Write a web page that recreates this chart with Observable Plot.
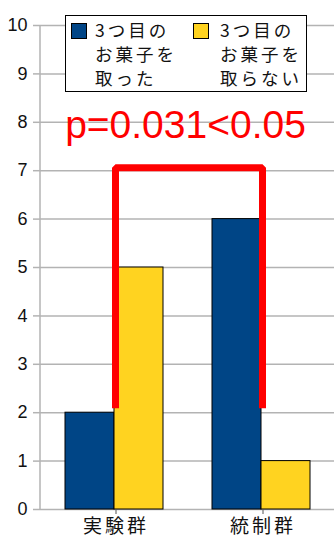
<!DOCTYPE html>
<html>
<head>
<meta charset="utf-8">
<script src="https://cdn.jsdelivr.net/npm/d3@7"></script>
<script src="https://cdn.jsdelivr.net/npm/@observablehq/plot@0.6"></script>
<style>
  html, body { margin: 0; padding: 0; background: #fff; }
  #wrap { position: relative; width: 334px; height: 540px; overflow: hidden; }
  #legend { position: absolute; left: 65px; top: 15px; width: 242px; height: 77px; box-sizing: border-box;
            border: 1.5px solid #000; background: #fff; font-family: "Noto Sans CJK JP", sans-serif; }
  .sw { position: absolute; width: 16px; height: 16px; box-sizing: border-box; border: 1px solid #000; top: 7px; }
  .lt { position: absolute; top: 2px; font-size: 17.5px; line-height: 24px; letter-spacing: 3px; color: #111; white-space: pre; }
</style>
</head>
<body>
<div id="wrap">
  <div id="chart"></div>
  <div id="legend"></div>
</div>
<script>
// ---- data ----
const groups = ["実験群", "統制群"];
const seriesNames = ["3つ目の\nお菓子を\n取った", "3つ目の\nお菓子を\n取らない"];
const seriesColors = ["#004586", "#ffd320"];
const tookValues = [2, 6];      // 3つ目のお菓子を取った
const notTookValues = [5, 1];   // 3つ目のお菓子を取らない
const yTicks = [0, 1, 2, 3, 4, 5, 6, 7, 8, 9, 10];
const pLabel = "p=0.031<0.05";
const bracketTop = 7.06;
const bracketBottom = 2.09;
const pLabelY = 7.93;

const took = groups.map((g, i) => ({group: g, value: tookValues[i]}));
const notTook = groups.map((g, i) => ({group: g, value: notTookValues[i]}));
const bracket = [
  {group: groups[0], y: bracketBottom},
  {group: groups[0], y: bracketTop},
  {group: groups[1], y: bracketTop},
  {group: groups[1], y: bracketBottom}
];

const gridColor = "#b3b3b3";

const chart = Plot.plot({
  width: 334,
  height: 540,
  marginLeft: 40,
  marginRight: 0,
  marginTop: 25,
  marginBottom: 31,
  style: {background: "#fff", overflow: "visible"},
  x: {domain: groups, paddingInner: 1/3, paddingOuter: 1/6, label: null},
  y: {domain: [0, 10], label: null},
  marks: [
    Plot.gridY(yTicks, {stroke: gridColor, strokeOpacity: 1, strokeWidth: 1.5}),
    Plot.axisY(yTicks, {tickSize: 7, tickPadding: 6, stroke: gridColor, strokeWidth: 1.5, strokeOpacity: 1,
      fill: "#111", fontSize: 18, fontFamily: "'Liberation Sans Narrow', 'Liberation Sans', sans-serif", label: null}),
    Plot.ruleX([0], {x: null, frameAnchor: "left", y1: 0, y2: 10, stroke: gridColor, strokeWidth: 1.5, render: (i, s, v, d) => {
      const g = d3.create("svg:g");
      g.append("line").attr("x1", d.marginLeft).attr("x2", d.marginLeft)
        .attr("y1", s.y(10)).attr("y2", s.y(0)).attr("stroke", gridColor).attr("stroke-width", 1.5);
      return g.node();
    }}),
    Plot.barY(took, {x: "group", y: "value", fill: seriesColors[0], stroke: "#000", strokeWidth: 1, insetRight: 49}),
    Plot.barY(notTook, {x: "group", y: "value", fill: seriesColors[1], stroke: "#000", strokeWidth: 1, insetLeft: 49}),
    Plot.line(bracket, {x: "group", y: "y", stroke: "#ff0000", strokeWidth: 7, strokeLinejoin: "miter", strokeLinecap: "butt", dx: 1}),
    Plot.text([pLabel], {text: d => d, frameAnchor: "middle", y: () => pLabelY, fill: "#ff0000", fontSize: 39,
      fontFamily: "'Liberation Sans', Arial, sans-serif", dx: -2}),
    Plot.axisX({tickSize: 5, tickPadding: 5, stroke: "#555", fill: "#111", fontSize: 19, dx: 1.5,
      fontFamily: "'Noto Sans CJK JP', sans-serif", label: null})
  ]
});
document.getElementById("chart").appendChild(chart);
d3.select(chart).selectAll("g[aria-label='x-axis tick label'] text").style("letter-spacing", "3px");

// legend
const legend = d3.select("#legend");
const swX = [5, 127];
const txX = [29, 154];
seriesNames.forEach((name, i) => {
  legend.append("div").attr("class", "sw").style("left", swX[i] + "px").style("background", seriesColors[i]);
  legend.append("div").attr("class", "lt").style("left", txX[i] + "px").text(name);
});
</script>
</body>
</html>
